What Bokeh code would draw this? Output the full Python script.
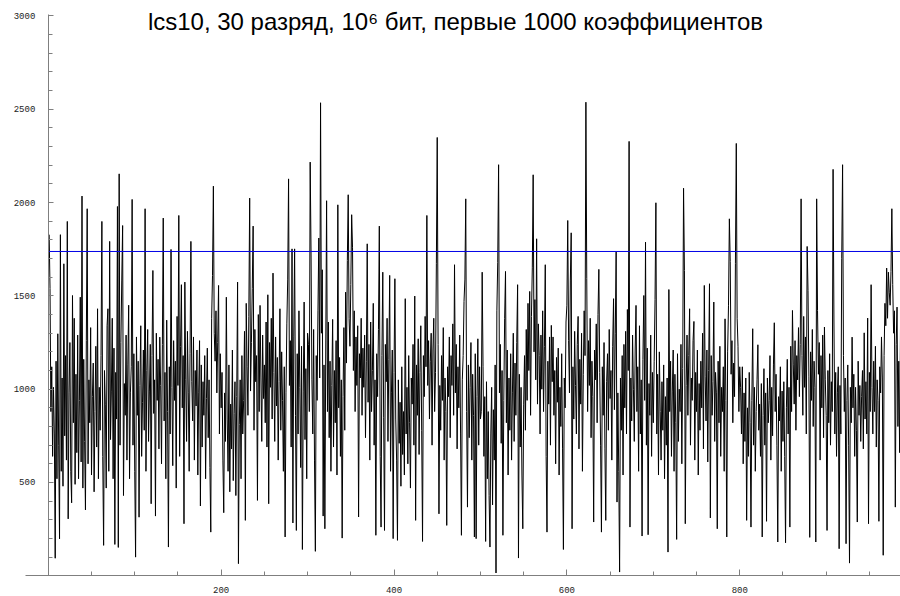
from bokeh.plotting import figure
from bokeh.models import Label, FixedTicker, Range1d
from bokeh.embed import file_html
from bokeh.resources import INLINE

# Coefficient magnitudes, first 1000 indices (blocks of 100)
coef_001_100 = [
    1828, 1540, 880, 1120, 640, 1010, 760, 94, 1150, 520,
    1297, 700, 198, 1828, 560, 1060, 480, 1672, 750, 1180,
    620, 1899, 305, 980, 1250, 560, 391, 1502, 820, 1380,
    490, 1080, 660, 1290, 520, 940, 1493, 610, 2035, 470,
    1160, 720, 353, 1260, 1967, 600, 1050, 820, 1330, 540,
    960, 1140, 450, 880, 1230, 690, 1431, 520, 1010, 780,
    1180, 1899, 640, 163, 1100, 920, 470, 1340, 1431, 560,
    1792, 730, 990, 1380, 520, 1220, 168, 1090, 840, 1979,
    152, 2154, 700, 1250, 1580, 1877, 430, 1030, 860, 1290,
    620, 1130, 1450, 520, 980, 1120, 2017, 700, 1190, 560,
]
coef_101_200 = [
    100, 1280, 860, 1150, 314, 1020, 1340, 640, 930, 1210,
    780, 1967, 560, 1100, 1320, 720, 990, 1240, 386, 1180,
    1636, 870, 1050, 320, 1300, 940, 1160, 680, 1279, 1020,
    600, 1240, 1917, 830, 1090, 520, 1370, 880, 154, 1120,
    760, 1749, 1010, 590, 1260, 940, 1150, 470, 1390, 1020,
    1931, 640, 1230, 1560, 900, 1180, 279, 1574, 1050, 720,
    1310, 980, 560, 1190, 1792, 1040, 830, 1280, 620, 1100,
    910, 1210, 540, 980, 1260, 374, 1130, 690, 1040, 860,
    1180, 520, 950, 1220, 740, 1050, 580, 234, 1380, 1610,
    2088, 1300, 1150, 1420, 980, 1250, 1556, 760, 1190, 900,
]
coef_201_300 = [
    1090, 620, 338, 980, 720, 1493, 840, 560, 1130, 450,
    920, 680, 1210, 510, 870, 1040, 430, 960, 1574, 65,
    810, 1050, 520, 1180, 760, 940, 1310, 297, 1460, 1120,
    860, 1390, 2024, 990, 1250, 1540, 1874, 780, 1320, 1040,
    1180, 404, 1400, 880, 1449, 1060, 720, 1290, 950, 1130,
    820, 1360, 690, 1506, 386, 1250, 1010, 1380, 840, 1622,
    1090, 720, 1280, 910, 1170, 620, 1040, 1431, 780, 1200,
    940, 560, 1120, 208, 980, 1350, 1590, 2127, 1020, 1260,
    690, 1752, 283, 1280, 1752, 860, 243, 1190, 760, 1420,
    1010, 580, 1230, 141, 990, 1467, 730, 1110, 520, 1300,
]
coef_301_400 = [
    1240, 880, 2217, 1740, 1050, 760, 1320, 620, 131, 1180,
    940, 1420, 1810, 1060, 2535, 1300, 1640, 320, 1130, 252,
    1210, 2010, 880, 1360, 740, 1150, 560, 1020, 1374, 690,
    1100, 820, 1260, 540, 1988, 900, 1170, 640, 1050, 202,
    960, 1330, 780, 1520, 1140, 1690, 2042, 1380, 1230, 1560,
    1935, 1761, 1100, 1420, 880, 1280, 1020, 1340, 315, 1190,
    1060, 1380, 860, 1220, 1010, 1290, 740, 1150, 1779, 930,
    1240, 620, 1360, 880, 1100, 1460, 700, 1050, 217, 1190,
    960, 1320, 1874, 640, 261, 1180, 1627, 850, 243, 1240,
    1040, 1380, 720, 1160, 1610, 560, 980, 1210, 199, 1090,
]
coef_401_500 = [
    1592, 840, 620, 190, 1050, 710, 930, 480, 1120, 650,
    880, 540, 1485, 760, 1010, 600, 1180, 820, 470, 1060,
    920, 1240, 700, 1499, 297, 1130, 860, 1270, 650, 1090,
    1340, 780, 184, 1180, 960, 1390, 1120, 1931, 1020, 1260,
    840, 1150, 1300, 700, 1210, 1380, 880, 1090, 1672, 2349,
    1240, 332, 1020, 780, 1180, 940, 1330, 620, 1060, 880,
    270, 1120, 960, 1280, 740, 1180, 1020, 1350, 860, 1667,
    980, 1240, 680, 1120, 900, 1290, 760, 217, 1050, 1180,
    1470, 1590, 2020, 880, 368, 1130, 740, 1010, 1250, 620,
    1080, 860, 208, 1190, 199, 960, 1270, 700, 1120, 840,
]
coef_501_600 = [
    880, 1627, 1120, 640, 960, 184, 1040, 520, 880, 430,
    154, 760, 1010, 380, 890, 620, 1130, 15, 1420, 1680,
    2203, 980, 1240, 710, 1100, 217, 940, 1380, 1631, 820,
    1210, 540, 1060, 780, 1190, 620, 980, 1300, 720, 1140,
    860, 1250, 1560, 95, 1080, 690, 1010, 540, 252, 920,
    1180, 780, 1320, 940, 1460, 1100, 1524, 860, 1390, 1650,
    2149, 1200, 1480, 1050, 1806, 920, 1350, 1180, 760, 1290,
    1000, 1420, 880, 1230, 1667, 640, 234, 1150, 920, 1280,
    700, 1342, 1040, 1280, 860, 1100, 600, 1170, 930, 1220,
    540, 1010, 800, 1190, 680, 141, 1060, 900, 1360, 1450,
]
coef_601_700 = [
    1904, 1260, 980, 1580, 1838, 252, 1120, 840, 1310, 1020,
    760, 1240, 1390, 680, 1160, 920, 1300, 560, 1080, 1420,
    1180, 2538, 1592, 880, 1260, 1020, 1380, 740, 1150, 960,
    288, 1210, 1050, 1350, 820, 1400, 1642, 1090, 700, 234,
    1120, 860, 1250, 680, 297, 1040, 1190, 780, 1320, 950,
    1100, 620, 1230, 1485, 890, 1300, 1735, 395, 980, 560,
    20, 1060, 780, 1180, 540, 1240, 900, 1310, 760, 1427,
    1100, 2328, 261, 1060, 830, 1290, 1000, 720, 1210, 1449,
    880, 1120, 560, 1340, 760, 1050, 213, 1160, 1502, 940,
    1788, 700, 1220, 220, 1030, 860, 1290, 640, 1090, 820,
]
coef_701_800 = [
    1150, 1481, 1999, 760, 1080, 540, 1200, 880, 620, 1040,
    780, 1130, 520, 960, 700, 1060, 127, 1534, 880, 1150,
    640, 990, 1210, 560, 1080, 820, 195, 1190, 720, 1000,
    880, 1240, 600, 1110, 2077, 1636, 279, 1020, 1290, 860,
    1180, 1431, 700, 1060, 940, 1260, 1363, 620, 1090, 880,
    1210, 540, 1030, 780, 1150, 900, 1300, 680, 1556, 1070,
    830, 1210, 610, 1100, 1565, 310, 1180, 860, 1040, 1467,
    720, 1090, 980, 252, 1150, 820, 1230, 640, 1010, 880,
    1120, 560, 1377, 940, 208, 1200, 1450, 1913, 1685, 1080,
    1260, 820, 1140, 960, 1672, 2317, 1380, 1230, 880, 1120,
]
coef_801_900 = [
    1010, 760, 1120, 600, 980, 720, 1060, 297, 900, 640,
    1090, 820, 261, 940, 1324, 700, 1010, 560, 880, 1050,
    1238, 780, 920, 640, 1030, 208, 860, 1110, 700, 980,
    292, 1060, 820, 940, 1180, 620, 1010, 750, 1130, 1356,
    880, 1080, 700, 181, 960, 830, 1120, 560, 990, 720,
    1040, 640, 177, 900, 1160, 760, 1010, 261, 1230, 880,
    1422, 1130, 920, 1260, 780, 1180, 1050, 1330, 960, 1240,
    2020, 1180, 860, 1390, 1010, 1280, 760, 1765, 1529, 1070,
    206, 1200, 940, 1320, 800, 1150, 1010, 181, 2020, 1422,
    1080, 1250, 620, 1180, 900, 1290, 740, 1333, 1050, 860,
]
coef_901_988 = [
    243, 1100, 820, 1190, 700, 1040, 880, 2178, 1360, 760,
    1090, 640, 980, 1120, 145, 1020, 760, 1699, 2203, 1180,
    880, 1060, 172, 940, 1130, 700, 68, 1010, 820, 1279,
    900, 1080, 640, 1010, 780, 288, 1150, 860, 1020, 720,
    960, 1100, 680, 1302, 840, 1040, 760, 1381, 279, 1090,
    880, 1560, 1010, 760, 1150, 880, 1230, 690, 1050, 940,
    292, 1120, 980, 1280, 1060, 110, 1180, 1460, 1340, 1649,
    1380, 1627, 1520, 1450, 1631, 1967, 1560, 1300, 1420, 368,
    1240, 1440, 800, 1150, 660, 1342, 920, 1210,
]

coefficients = (coef_001_100 + coef_101_200 + coef_201_300 + coef_301_400
                + coef_401_500 + coef_501_600 + coef_601_700 + coef_701_800
                + coef_801_900 + coef_901_988)
index = list(range(1, len(coefficients) + 1))

threshold = 1738

x_major = [200, 400, 600, 800]
x_minor = [50, 100, 150, 250, 300, 350, 450, 500, 550, 650, 700, 750, 850, 900, 950]
y_major = [500, 1000, 1500, 2000, 2500, 3000]
y_minor = [v for v in range(100, 3001, 100) if v % 500 != 0]

title_text = "lcs10, 30 разряд, 10\u2076 бит, первые 1000 коэффициентов"

p = figure(width=900, height=596, output_backend="svg", toolbar_location=None,
           x_range=Range1d(-55.3, 986.0), y_range=Range1d(-111, 3083),
           min_border=0)
p.outline_line_color = None
p.grid.visible = False
p.background_fill_color = "white"
p.border_fill_color = "white"

# series and level line
p.line(index, coefficients, line_color="black", line_width=1)
p.line([0, len(coefficients)], [threshold, threshold], line_color="#0000e6", line_width=1)

# axes crossing at the origin
for ax in (p.xaxis, p.yaxis):
    ax.fixed_location = 0
    ax.axis_line_color = "#7f7f7f"
    ax.major_tick_line_color = "#7f7f7f"
    ax.minor_tick_line_color = "#7f7f7f"
    ax.major_tick_out = 0
    ax.minor_tick_out = 0
    ax.major_label_text_font = "Liberation Mono"
    ax.major_label_text_font_size = "9px"
    ax.major_label_text_color = "#222222"

p.xaxis.bounds = (-26, 986)
p.yaxis.bounds = (0, 3010)
p.xaxis.ticker = FixedTicker(ticks=x_major, minor_ticks=x_minor)
p.yaxis.ticker = FixedTicker(ticks=y_major, minor_ticks=y_minor)
p.xaxis.major_tick_in = 6
p.xaxis.minor_tick_in = 4
p.yaxis.major_tick_in = 5
p.yaxis.minor_tick_in = 4
p.xaxis.major_label_standoff = 11
p.yaxis.major_label_standoff = 13

p.add_layout(Label(x=455, y=575, x_units="screen", y_units="screen", text=title_text,
                   text_align="center", text_baseline="alphabetic",
                   text_font="Liberation Sans", text_font_size="24px",
                   text_color="black"))

open("out.html", "w").write(file_html(p, INLINE))
